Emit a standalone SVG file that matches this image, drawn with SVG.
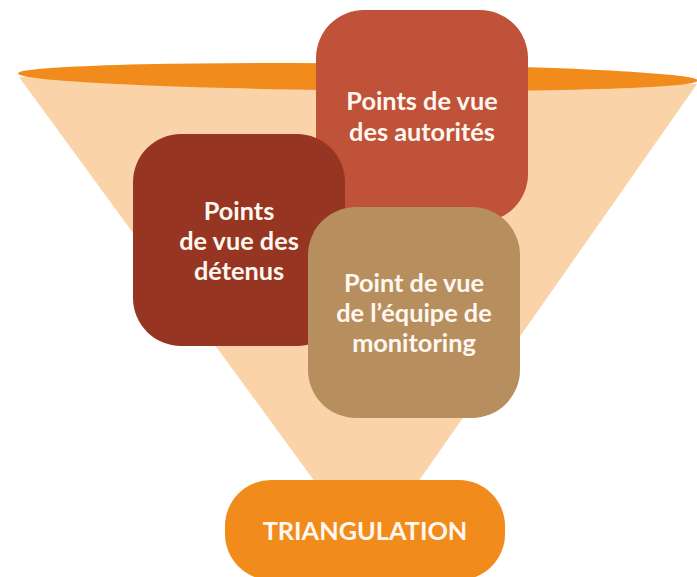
<svg xmlns="http://www.w3.org/2000/svg" width="697" height="577" viewBox="0 0 697 577">
<style>
.t{font-family:Lato,"Open Sans","Liberation Sans",sans-serif;font-weight:bold;font-size:25.3px;fill:#FFF8F0;text-anchor:middle}
</style>
<rect width="697" height="577" fill="#FFFFFF"/>
<g id="funnel">
<polygon points="19,77 697,84 418,482 315,482" fill="#FBD3A8"/>
<ellipse cx="358" cy="77" rx="340" ry="13.5" transform="rotate(0.6 358 77)" fill="#F18B1B"/>
</g>
<g id="node-autorites">
<rect x="316" y="10" width="212" height="212" rx="48" fill="#BF5238"/>
<text class="t" x="422" y="110">Points de vue</text>
<text class="t" x="422" y="141">des autorités</text>
</g>
<g id="node-detenus">
<rect x="133" y="134" width="212" height="212" rx="48" fill="#963622"/>
<text class="t" x="239" y="220">Points</text>
<text class="t" x="239" y="250">de vue des</text>
<text class="t" x="239" y="280">détenus</text>
</g>
<g id="node-monitoring">
<rect x="308" y="207" width="212" height="211" rx="48" fill="#B78F5E"/>
<text class="t" x="414" y="292">Point de vue</text>
<text class="t" x="414" y="322">de l’équipe de</text>
<text class="t" x="414" y="352">monitoring</text>
</g>
<g id="node-triangulation">
<rect x="225" y="480" width="280" height="100" rx="46" fill="#F18B1B"/>
<text class="t" x="365" y="540">TRIANGULATION</text>
</g>
<g id="connectors"></g>
</svg>
